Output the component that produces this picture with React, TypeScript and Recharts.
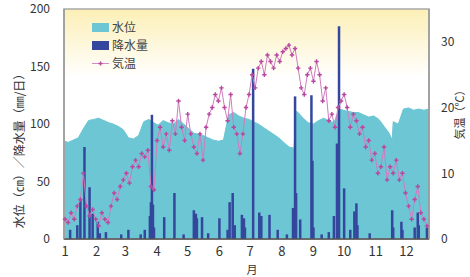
import {
  ComposedChart, Area, Bar, Line, XAxis, YAxis, CartesianGrid,
  Legend, ReferenceArea,
} from 'recharts'

// day of year (0 = Jan 1)
const MONTH_TICKS = [0, 31, 59, 90, 120, 151, 181, 212, 243, 273, 304, 334]
const MONTH_LABELS = ['1', '2', '3', '4', '5', '6', '7', '8', '9', '10', '11', '12']

// 水位 (cm)
const LEVEL_DAYS = [
  0, 3, 8, 13, 18, 23, 28, 33, 38, 43, 47, 52, 57, 62, 67, 72, 77, 82, 87, 91,
  96, 101, 106, 111, 116, 121, 126, 131, 135, 140, 145, 150, 155, 160, 165, 170,
  175, 180, 184, 189, 194, 199, 204, 209, 214, 219, 224, 226, 228, 233, 238, 243,
  248, 253, 258, 263, 268, 272, 277, 282, 287, 292, 297, 302, 307, 312, 317, 320,
  321, 326, 331, 336, 341, 346, 351, 356,
]
const LEVEL = [
  85, 84, 86, 88, 96, 103, 104, 105, 103, 101, 100, 98, 95, 88, 87, 90, 102, 104, 101, 99,
  103, 101, 100, 104, 100, 96, 92, 91, 90, 88, 86, 85, 86, 108, 110, 107,
  105, 104, 102, 100, 97, 94, 91, 88, 84, 80, 79, 111, 110, 105, 101, 100,
  103, 105, 103, 101, 113, 112, 111, 110, 110, 108, 106, 107, 104, 98, 92, 86,
  102, 100, 113, 114, 112, 113, 112, 113,
]

// 降水量 (mm/日)
const RAIN_DAYS = [
  5, 12, 15, 19, 24, 27, 32, 34, 40, 55, 62, 74, 78, 83, 84, 85, 86, 87, 97, 107,
  116, 126, 128, 129, 134, 140, 151, 159, 161, 164, 166, 173, 175, 176, 184, 190,
  192, 200, 208, 217, 223, 225, 226, 230, 241, 242, 243, 251, 258, 263, 266, 268,
  273, 279, 283, 285, 286, 298, 320, 321, 329, 330, 342, 345, 346, 354,
]
const RAIN = [
  8, 12, 34, 80, 45, 22, 15, 5, 6, 4, 8, 4, 8, 20, 32, 108, 30, 10, 19, 40,
  4, 25, 22, 18, 19, 5, 18, 8, 32, 40, 12, 21, 18, 10, 148, 23,
  20, 21, 8, 4, 27, 124, 40, 17, 125, 68, 10, 4, 6, 20, 83, 185,
  44, 8, 24, 31, 12, 5, 25, 10, 15, 8, 10, 23, 12, 10,
]

// 気温 (℃), every 3 days from Jan 1
const TEMP_STEP = 3
const TEMP = [
  3, 2.5, 4, 3, 5, 6, 10, 5, 3.5, 4.5, 3,
  2, 4, 3, 2.5, 5, 7, 6, 8, 9,
  10, 8.5, 11, 12, 11, 13, 12.5, 13.5, 8, 7.5,
  15, 17, 14, 16, 13.5, 18, 16, 21, 17, 15,
  19, 16, 14, 13, 16, 12, 17, 19, 20, 22, 21,
  23, 20, 18, 22, 17, 16, 13, 16, 20, 22,
  25, 23, 26, 27, 25, 28, 27, 26, 28, 27,
  28.5, 29, 29.5, 28, 29, 26, 23, 22, 25, 26,
  24, 27, 25, 21, 23, 18, 19, 17, 20, 21,
  22, 20, 17, 19, 18, 16, 17, 14, 15, 12, 13,
  10, 11, 14, 9, 11, 10, 12, 9, 10, 7,
  5, 3, 6, 8, 4, 3, 2,
]

const LAST_DAY = 356

const rows: Record<string, number>[] = []
for (let d = 0; d <= LAST_DAY; d++) rows.push({ day: d })
LEVEL_DAYS.forEach((d, i) => { rows[d].level = LEVEL[i] })
RAIN_DAYS.forEach((d, i) => { rows[d].rain = RAIN[i] })
TEMP.forEach((t, i) => { rows[i * TEMP_STEP].temp = t })

const CYAN = '#6cc6d4'
const NAVY = '#34479c'
const MAGENTA = '#b8479f'
const FONT = '"Noto Sans CJK JP", "Noto Sans", sans-serif'

const LEGEND = [
  { name: '水位', kind: 'box', color: CYAN },
  { name: '降水量', kind: 'box', color: NAVY },
  { name: '気温', kind: 'line', color: MAGENTA },
]

const Cross = (props: any) => {
  const { cx, cy, index } = props
  if (cx == null || cy == null) return <g key={index} />
  return (
    <path
      key={index}
      d={`M${cx - 2.2},${cy}h4.4M${cx},${cy - 2.2}v4.4`}
      stroke={MAGENTA}
      strokeWidth={1.4}
    />
  )
}

// the band per day is ~1px, so widen each bar around its centre
const RainBar = (props: any) => {
  const { x, y, width, height } = props
  if (!height || height <= 0) return <g />
  const cx = x + width / 2
  return <rect x={cx - 1.25} y={y} width={2.5} height={height} fill={NAVY} />
}

const renderLegend = () => (
  <div style={{ fontFamily: FONT, fontSize: 12, color: '#444' }}>
    {LEGEND.map(l => (
      <div key={l.name} style={{ display: 'flex', alignItems: 'center', height: 18, lineHeight: '14px' }}>
        {l.kind === 'box' ? (
          <span style={{ width: 17, height: 9, background: l.color, marginRight: 3, display: 'inline-block' }} />
        ) : (
          <svg width={17} height={9} style={{ marginRight: 3 }}>
            <line x1={0} y1={4.5} x2={17} y2={4.5} stroke="#d58cc6" strokeWidth={1} />
            <path d="M6.5,4.5h4M8.5,2.5v4" stroke={MAGENTA} strokeWidth={1.4} />
          </svg>
        )}
        <span>{l.name}</span>
      </div>
    ))}
  </div>
)

export default function App() {
  return (
    <div style={{ position: 'absolute', left: 0, top: 0, background: '#fff' }}>
      <ComposedChart
        width={470}
        height={277}
        data={rows}
        margin={{ top: 9, right: 0, left: 0, bottom: 0 }}
      >
        <defs>
          <linearGradient id="plotBg" x1="0" y1="0" x2="0" y2="1">
            <stop offset="0%" stopColor="#fcefb6" />
            <stop offset="30%" stopColor="#ffffff" />
            <stop offset="100%" stopColor="#ffffff" />
          </linearGradient>
        </defs>
        <CartesianGrid horizontal={false} vertical={false} fill="url(#plotBg)" />
        <XAxis
          dataKey="day"
          type="number"
          domain={[-1, LAST_DAY]}
          ticks={MONTH_TICKS}
          tickFormatter={v => MONTH_LABELS[MONTH_TICKS.indexOf(v)]}
          height={38}
          tick={{ fill: '#333', fontSize: 13, fontFamily: FONT }}
          tickLine={false}
          tickMargin={2}
          axisLine={{ stroke: '#555', strokeWidth: 1.5 }}
          label={{ content: () => (
            <text x={252} y={274} textAnchor="middle" fontSize={11} fill="#333" fontFamily={FONT}>月</text>
          ) }}
        />
        <YAxis
          yAxisId="left"
          domain={[0, 200]}
          ticks={[0, 50, 100, 150, 200]}
          width={64}
          tick={{ fill: '#333', fontSize: 12, fontFamily: FONT }}
          tickLine={false}
          tickMargin={8}
          axisLine={{ stroke: '#9a9a9a', strokeWidth: 1.5 }}
          label={{ content: () => (
            <text
              x={21} y={148} textAnchor="middle" dominantBaseline="middle"
              transform="rotate(-90 21 148)" fontSize={12} fill="#333" fontFamily={FONT}
            >
              水位（㎝）／降水量（㎜/日）
            </text>
          ) }}
        />
        <YAxis
          yAxisId="right"
          orientation="right"
          domain={[0, 35]}
          ticks={[0, 10, 20, 30]}
          width={41}
          tick={{ fill: '#333', fontSize: 12, fontFamily: FONT }}
          tickLine={false}
          tickMargin={6}
          axisLine={{ stroke: '#9a9a9a', strokeWidth: 1.5 }}
          label={{ content: () => (
            <text
              x={461} y={112} textAnchor="middle" dominantBaseline="middle"
              transform="rotate(-90 461 112)" fontSize={11} fill="#333" fontFamily={FONT}
            >
              気温（℃）
            </text>
          ) }}
        />
        <Area
          yAxisId="left"
          dataKey="level"
          type="linear"
          fill={CYAN}
          fillOpacity={1}
          stroke={CYAN}
          connectNulls
          isAnimationActive={false}
        />
        <Bar yAxisId="left" dataKey="rain" fill={NAVY} shape={RainBar} isAnimationActive={false} />
        <Line
          yAxisId="right"
          dataKey="temp"
          type="linear"
          stroke="#d07cbf"
          strokeWidth={1}
          dot={Cross}
          activeDot={false}
          connectNulls
          isAnimationActive={false}
        />
        <ReferenceArea
          yAxisId="left"
          x1={-1}
          x2={LAST_DAY}
          y1={0}
          y2={200}
          fill="none"
          stroke="#a8a8a8"
          strokeWidth={1.5}
        />
        <Legend
          layout="vertical"
          align="center"
          verticalAlign="middle"
          content={renderLegend}
          wrapperStyle={{ left: 92, top: 18, width: 'auto' }}
        />
      </ComposedChart>
    </div>
  )
}
